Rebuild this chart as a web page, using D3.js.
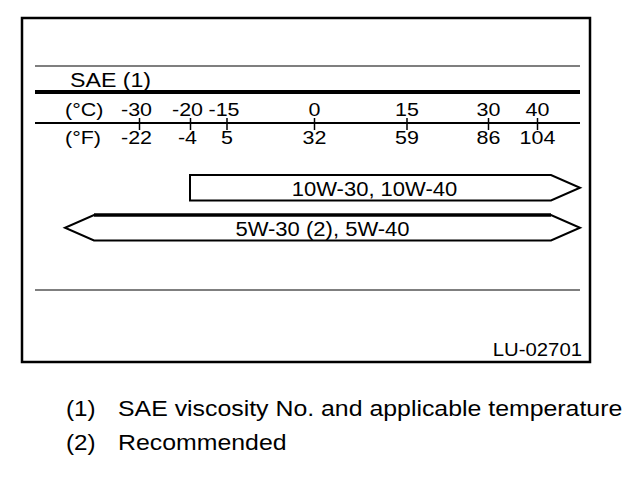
<!DOCTYPE html>
<html>
<head>
<meta charset="utf-8">
<script src="https://cdn.jsdelivr.net/npm/d3@7"></script>
<style>
  html, body { margin: 0; padding: 0; background: #fff; }
  svg { display: block; }
  text { font-family: "Liberation Sans", Arial, Helvetica, sans-serif; fill: #000; }
</style>
</head>
<body>
<svg id="chart" width="640" height="478"></svg>
<script>
// ---- data ----
const celsiusTicks = [-30, -20, -15, 0, 15, 30, 40];
const fahrenheitTicks = [-22, -4, 5, 32, 59, 86, 104];
const grades = ["10W-30, 10W-40", "5W-30 (2), 5W-40"];
const gradeFromC = [-20, null];   // null = open-ended (arrow)
const gradeToC = [null, null];
const headerLabel = "SAE (1)";
const unitLabels = ["(°C)", "(°F)"];
const figureId = "LU-02701";
const noteKeys = ["(1)", "(2)"];
const noteTexts = ["SAE viscosity No. and applicable temperature", "Recommended"];

// ---- layout ----
const box = { x0: 22, y0: 18, x1: 590, y1: 362 };
const lineX0 = 35, lineX1 = 580;
const yTop = 66, yThick = 92, yAxis = 123, yBottom = 290;
const tickPx = [139, 190, 226.5, 314, 406.5, 488, 537]; // nonuniform printed scale
const headLen = 29;
const sx = 1.13; // horizontal stretch of the printed typeface
const rowTopStroke = [2, 3.4];

const svg = d3.select("#chart");

const x = d3.scaleLinear().domain(celsiusTicks).range(tickPx);
const y = d3.scaleBand().domain(grades).range([175, 240.5]).paddingInner(0.3625).paddingOuter(0);

function label(g, str, px, py, size, anchor, stretch) {
  return g.append("text")
    .attr("transform", `translate(${px},${py}) scale(${stretch || sx},1)`)
    .attr("text-anchor", anchor || "start")
    .attr("font-size", size)
    .text(str);
}

// outer frame
svg.append("rect")
  .attr("x", box.x0).attr("y", box.y0)
  .attr("width", box.x1 - box.x0).attr("height", box.y1 - box.y0)
  .attr("fill", "none").attr("stroke", "#000").attr("stroke-width", 2.5);

// rules
[[yTop, 1.2], [yThick, 4], [yAxis, 2], [yBottom, 1.2]].forEach(([yy, w]) => {
  svg.append("line").attr("x1", lineX0).attr("x2", lineX1).attr("y1", yy).attr("y2", yy)
    .attr("stroke", "#000").attr("stroke-width", w);
});

// header
label(svg, headerLabel, 70, 87, 20.5);

// unit labels
label(svg, unitLabels[0], 65, 116, 19);
label(svg, unitLabels[1], 65, 144, 19);

const negShift = v => (v < 0 ? -3 : 0);

// Celsius axis (labels above line)
const axC = d3.axisTop(x).tickValues(celsiusTicks).tickSize(5).tickFormat(d => d);
const gC = svg.append("g").attr("transform", `translate(0,${yAxis})`).call(axC);
gC.select(".domain").remove();
gC.selectAll(".tick line").attr("stroke", "#000").attr("stroke-width", 1.5);
gC.selectAll(".tick text").remove();
gC.selectAll(".tick").each(function(d) {
  label(d3.select(this), String(d), negShift(d), -7, 19, "middle");
});

// Fahrenheit axis (labels below line)
const axF = d3.axisBottom(x).tickValues(celsiusTicks).tickSize(7).tickFormat((d, i) => fahrenheitTicks[i]);
const gF = svg.append("g").attr("transform", `translate(0,${yAxis})`).call(axF);
gF.select(".domain").remove();
gF.selectAll(".tick line").attr("stroke", "#000").attr("stroke-width", 1.5);
gF.selectAll(".tick text").remove();
gF.selectAll(".tick").each(function(d, i) {
  const f = fahrenheitTicks[i];
  label(d3.select(this), String(f), negShift(f), 21, 19, "middle");
});

// grade bars
const leftTip = lineX0 + 30, rightTip = lineX1;
grades.forEach((gname, i) => {
  const top = y(gname), bot = top + y.bandwidth(), mid = (top + bot) / 2;
  const openL = gradeFromC[i] === null, openR = gradeToC[i] === null;
  const xl = openL ? leftTip : x(gradeFromC[i]);
  const xr = openR ? rightTip : x(gradeToC[i]);
  const bl = openL ? xl + headLen : xl;
  const br = openR ? xr - headLen : xr;
  const p = d3.path();
  p.moveTo(bl, top);
  p.lineTo(br, top);
  if (openR) p.lineTo(xr, mid);
  p.lineTo(br, bot);
  p.lineTo(bl, bot);
  if (openL) p.lineTo(xl, mid);
  p.closePath();
  svg.append("path").attr("d", p.toString())
    .attr("fill", "#fff").attr("stroke", "#000").attr("stroke-width", 2)
    .attr("stroke-linejoin", "miter");
  if (rowTopStroke[i] > 2) {
    svg.append("line").attr("x1", bl).attr("x2", br).attr("y1", top).attr("y2", top)
      .attr("stroke", "#000").attr("stroke-width", rowTopStroke[i]);
  }
  label(svg, gname, (bl + br) / 2 + (openL ? 0 : 4), bot - 5, 19.5, "middle");
});

// figure id
label(svg, figureId, 582, 356, 18, "end");

// footnotes
noteKeys.forEach((k, i) => {
  label(svg, k, 66, 416 + i * 34, 22, "start", 1.1);
  label(svg, noteTexts[i], 118, 416 + i * 34, 22, "start", 1.13);
});
</script>
</body>
</html>
